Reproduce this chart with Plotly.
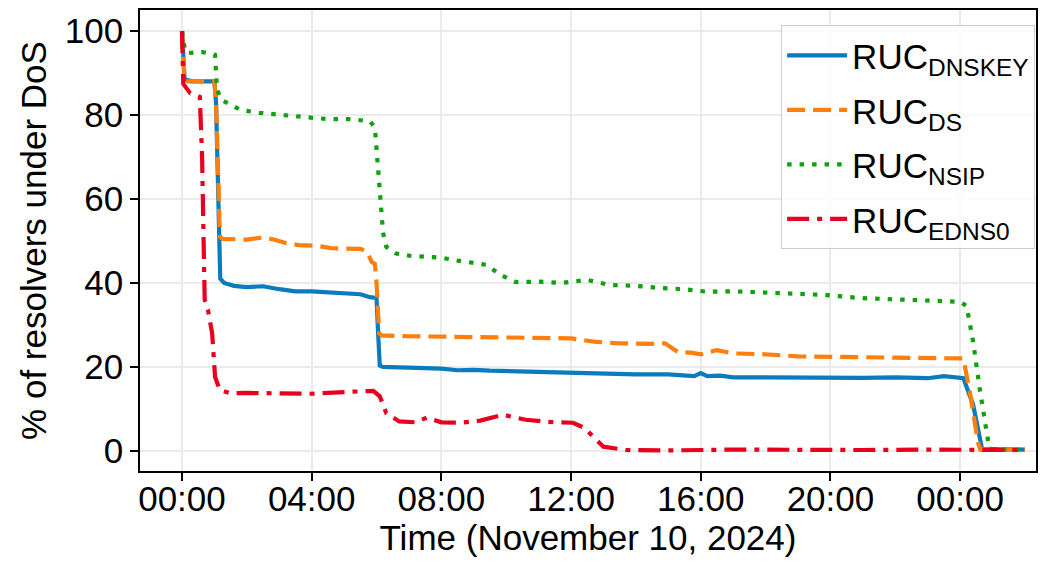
import pandas as pd
import plotly.graph_objects as go

# ---- data (hours since 2024-11-10 00:00, % of resolvers under DoS) ----
dnskey_h = [0, 0.08, 0.3, 0.6, 0.9, 1.0, 1.05, 1.1, 1.15, 1.18, 1.3, 1.6, 2.0, 2.5, 3.0, 3.5, 4.0, 4.5,
            5.0, 5.5, 5.8, 6.0, 6.05, 6.1, 6.2, 7.0, 8.0, 8.5, 9.0, 9.5, 10.0, 11.0, 11.7, 12.0, 12.5,
            13.0, 14.0, 15.0, 15.5, 15.8, 16.0, 16.2, 16.6, 17.0, 18.0, 19.0, 20.0, 21.0, 22.0, 23.0,
            23.5, 23.9, 24.1, 24.4, 24.6, 24.68, 25.0, 25.5, 26.0]
dnskey_v = [100, 88.5, 88, 88, 88.2, 88, 83, 68, 52, 41, 40, 39.3, 39, 39.2, 38.5, 38, 38, 37.8,
            37.5, 37.3, 36.6, 36.4, 28, 20.3, 20, 19.8, 19.6, 19.2, 19.3, 19.1, 19, 18.8, 18.5, 18.6, 18.3,
            18.3, 18.2, 18.2, 18, 17.8, 18.5, 17.8, 17.9, 17.5, 17.5, 17.4, 17.5, 17.4, 17.5, 17.3,
            17.8, 17.5, 17.3, 11, 3, 0.3, 0.4, 0.3, 0.3]

ds_h = [0, 0.08, 0.5, 0.9, 1.0, 1.05, 1.1, 1.17, 1.25, 1.5, 2.0, 2.5, 2.8, 3.2, 3.6, 4.2, 4.6, 5.0,
        5.5, 5.7, 5.85, 5.95, 6.0, 6.08, 6.15, 7.0, 8.0, 9.0, 10.0, 11.0, 12.0, 12.7, 13.5, 14.5,
        14.9, 15.3, 15.7, 16.0, 16.3, 16.5, 17.0, 18.0, 19.0, 20.0, 21.0, 22.0, 23.0, 24.0, 24.1,
        24.3, 24.45, 24.55, 24.62, 25.0, 25.5, 26.0]
ds_v = [100, 88, 88, 88, 88, 83, 68, 51, 50.5, 50.5, 50.3, 50.8, 50.4, 49.5, 49, 48.8, 48.3, 48.2,
        48.1, 47.5, 45, 44.5, 40, 28, 27.5, 27.3, 27.2, 27, 26.8, 26.9, 26.8, 26, 25.6, 25.5,
        25.6, 23.5, 23.4, 23, 23.5, 24, 23.2, 23, 22.5, 22.5, 22.3, 22.2, 22, 21.9, 22,
        14, 7, 2, 0.3, 0.5, 0.3, 0.3]

nsip_h = [0, 0.1, 0.3, 0.6, 0.9, 1.02, 1.08, 1.15, 1.23, 1.5, 1.8, 2.4, 3.0, 3.6, 4.5, 5.2, 5.8, 5.95,
          6.02, 6.1, 6.2, 6.3, 6.6, 7.0, 7.5, 8.0, 8.5, 9.0, 9.4, 9.8, 10.3, 11.0, 11.7, 12.5, 13.2,
          14.0, 14.7, 15.5, 16.2, 17.0, 18.2, 19.0, 19.9, 20.9, 22.0, 23.0, 24.0, 24.2, 24.4, 24.6,
          24.8, 24.9, 25.2, 25.6, 26.0]
nsip_v = [100, 95, 94.8, 95, 94.6, 94.3, 86, 84.5, 83.5, 82.5, 81.2, 80.5, 80, 79.5, 79, 79, 78.5, 77,
          70, 59, 52, 48.6, 47, 46.5, 46.2, 46, 45.3, 44.8, 44.3, 42, 40.2, 40.3, 40, 40.7, 39.5,
          39.3, 38.8, 38.5, 37.9, 38, 37.6, 37.5, 37.1, 36.4, 36, 35.7, 35.5, 34.5, 26, 15,
          5.5, 0.5, 0.3, 0.2, 0.2]

edns0_h = [0, 0.04, 0.25, 0.55, 0.62, 0.66, 0.7, 0.8, 0.93, 1.02, 1.17, 1.5, 2.0, 3.0, 4.0, 5.0, 5.5,
           5.9, 6.1, 6.3, 6.7, 7.2, 7.55, 8.0, 8.6, 9.2, 9.9, 10.6, 11.3, 12.06, 12.4, 12.7, 13.0,
           13.7, 15.0, 17.0, 19.0, 21.0, 23.0, 24.5, 26.0]
edns0_v = [100, 87.4, 85.2, 84.3, 70, 50, 36, 33.6, 28, 17.6, 14.5, 13.7, 13.8, 13.7, 13.6, 14, 14.2,
           14.3, 13, 9, 7, 6.8, 7.9, 6.8, 6.7, 7.2, 8.6, 7.4, 6.9, 6.7, 5.5, 3.4, 1,
           0.2, 0.1, 0.3, 0.2, 0.2, 0.3, 0.2, 0.2]

base = pd.Timestamp("2024-11-10 00:00")


def to_time(hours):
    return base + pd.to_timedelta(hours, unit="h")


series = [
    ("RUC<sub>DNSKEY</sub>", dnskey_h, dnskey_v, "#0a7bbd", "solid"),
    ("RUC<sub>DS</sub>", ds_h, ds_v, "#ff7f0e", "18px,8px"),
    ("RUC<sub>NSIP</sub>", nsip_h, nsip_v, "#10a010", "4.5px,8px"),
    ("RUC<sub>EDNS0</sub>", edns0_h, edns0_v, "#e8001f", "22px,8px,5px,8px"),
]

fig = go.Figure()
for i, (name, h, v, color, dash) in enumerate(series):
    fig.add_trace(go.Scatter(
        x=to_time(h), y=v, mode="lines", name=name, legendgroup=f"g{i}",
        line=dict(color=color, width=4.2, dash=dash),
    ))

FONT = "Liberation Sans, Arial, sans-serif"
FS = 35
fig.update_layout(
    width=1050, height=562,
    margin=dict(l=140, r=14, t=10, b=91),
    paper_bgcolor="white", plot_bgcolor="white",
    font=dict(family=FONT, size=FS, color="black"),
    showlegend=True,
    legend=dict(
        x=0.999, y=0.967, xanchor="right", yanchor="top",
        bgcolor="rgba(255,255,255,0.85)", bordercolor="#cccccc", borderwidth=1,
        font=dict(family=FONT, size=FS, color="black"),
        tracegroupgap=6, itemwidth=60,
    ),
)
fig.update_xaxes(
    range=[to_time(-1.295), to_time(26.34)],
    tickformat="%H:%M", dtick=4 * 3600 * 1000, tick0=base,
    showline=True, linecolor="black", linewidth=1.5, mirror=True,
    ticks="outside", ticklen=8, tickwidth=1.5, tickcolor="black",
    showgrid=True, gridcolor="#ebebeb", gridwidth=1.5,
    zeroline=False, automargin=False, ticklabelstandoff=-12,
    title=dict(text="Time (November 10, 2024)", standoff=0, font=dict(size=FS)),
    tickfont=dict(size=FS),
)
fig.update_yaxes(
    range=[-4.8, 105],
    tickvals=[0, 20, 40, 60, 80, 100],
    showline=True, linecolor="black", linewidth=1.5, mirror=True,
    ticks="outside", ticklen=8, tickwidth=1.5, tickcolor="black",
    showgrid=True, gridcolor="#ebebeb", gridwidth=1.5,
    zeroline=False, automargin=False,
    title=dict(text="% of resolvers under DoS", standoff=8, font=dict(size=FS)),
    tickfont=dict(size=FS),
)

fig.write_html("out.html", config={"displayModeBar": False},
               post_script="document.body.style.margin='0px';")
